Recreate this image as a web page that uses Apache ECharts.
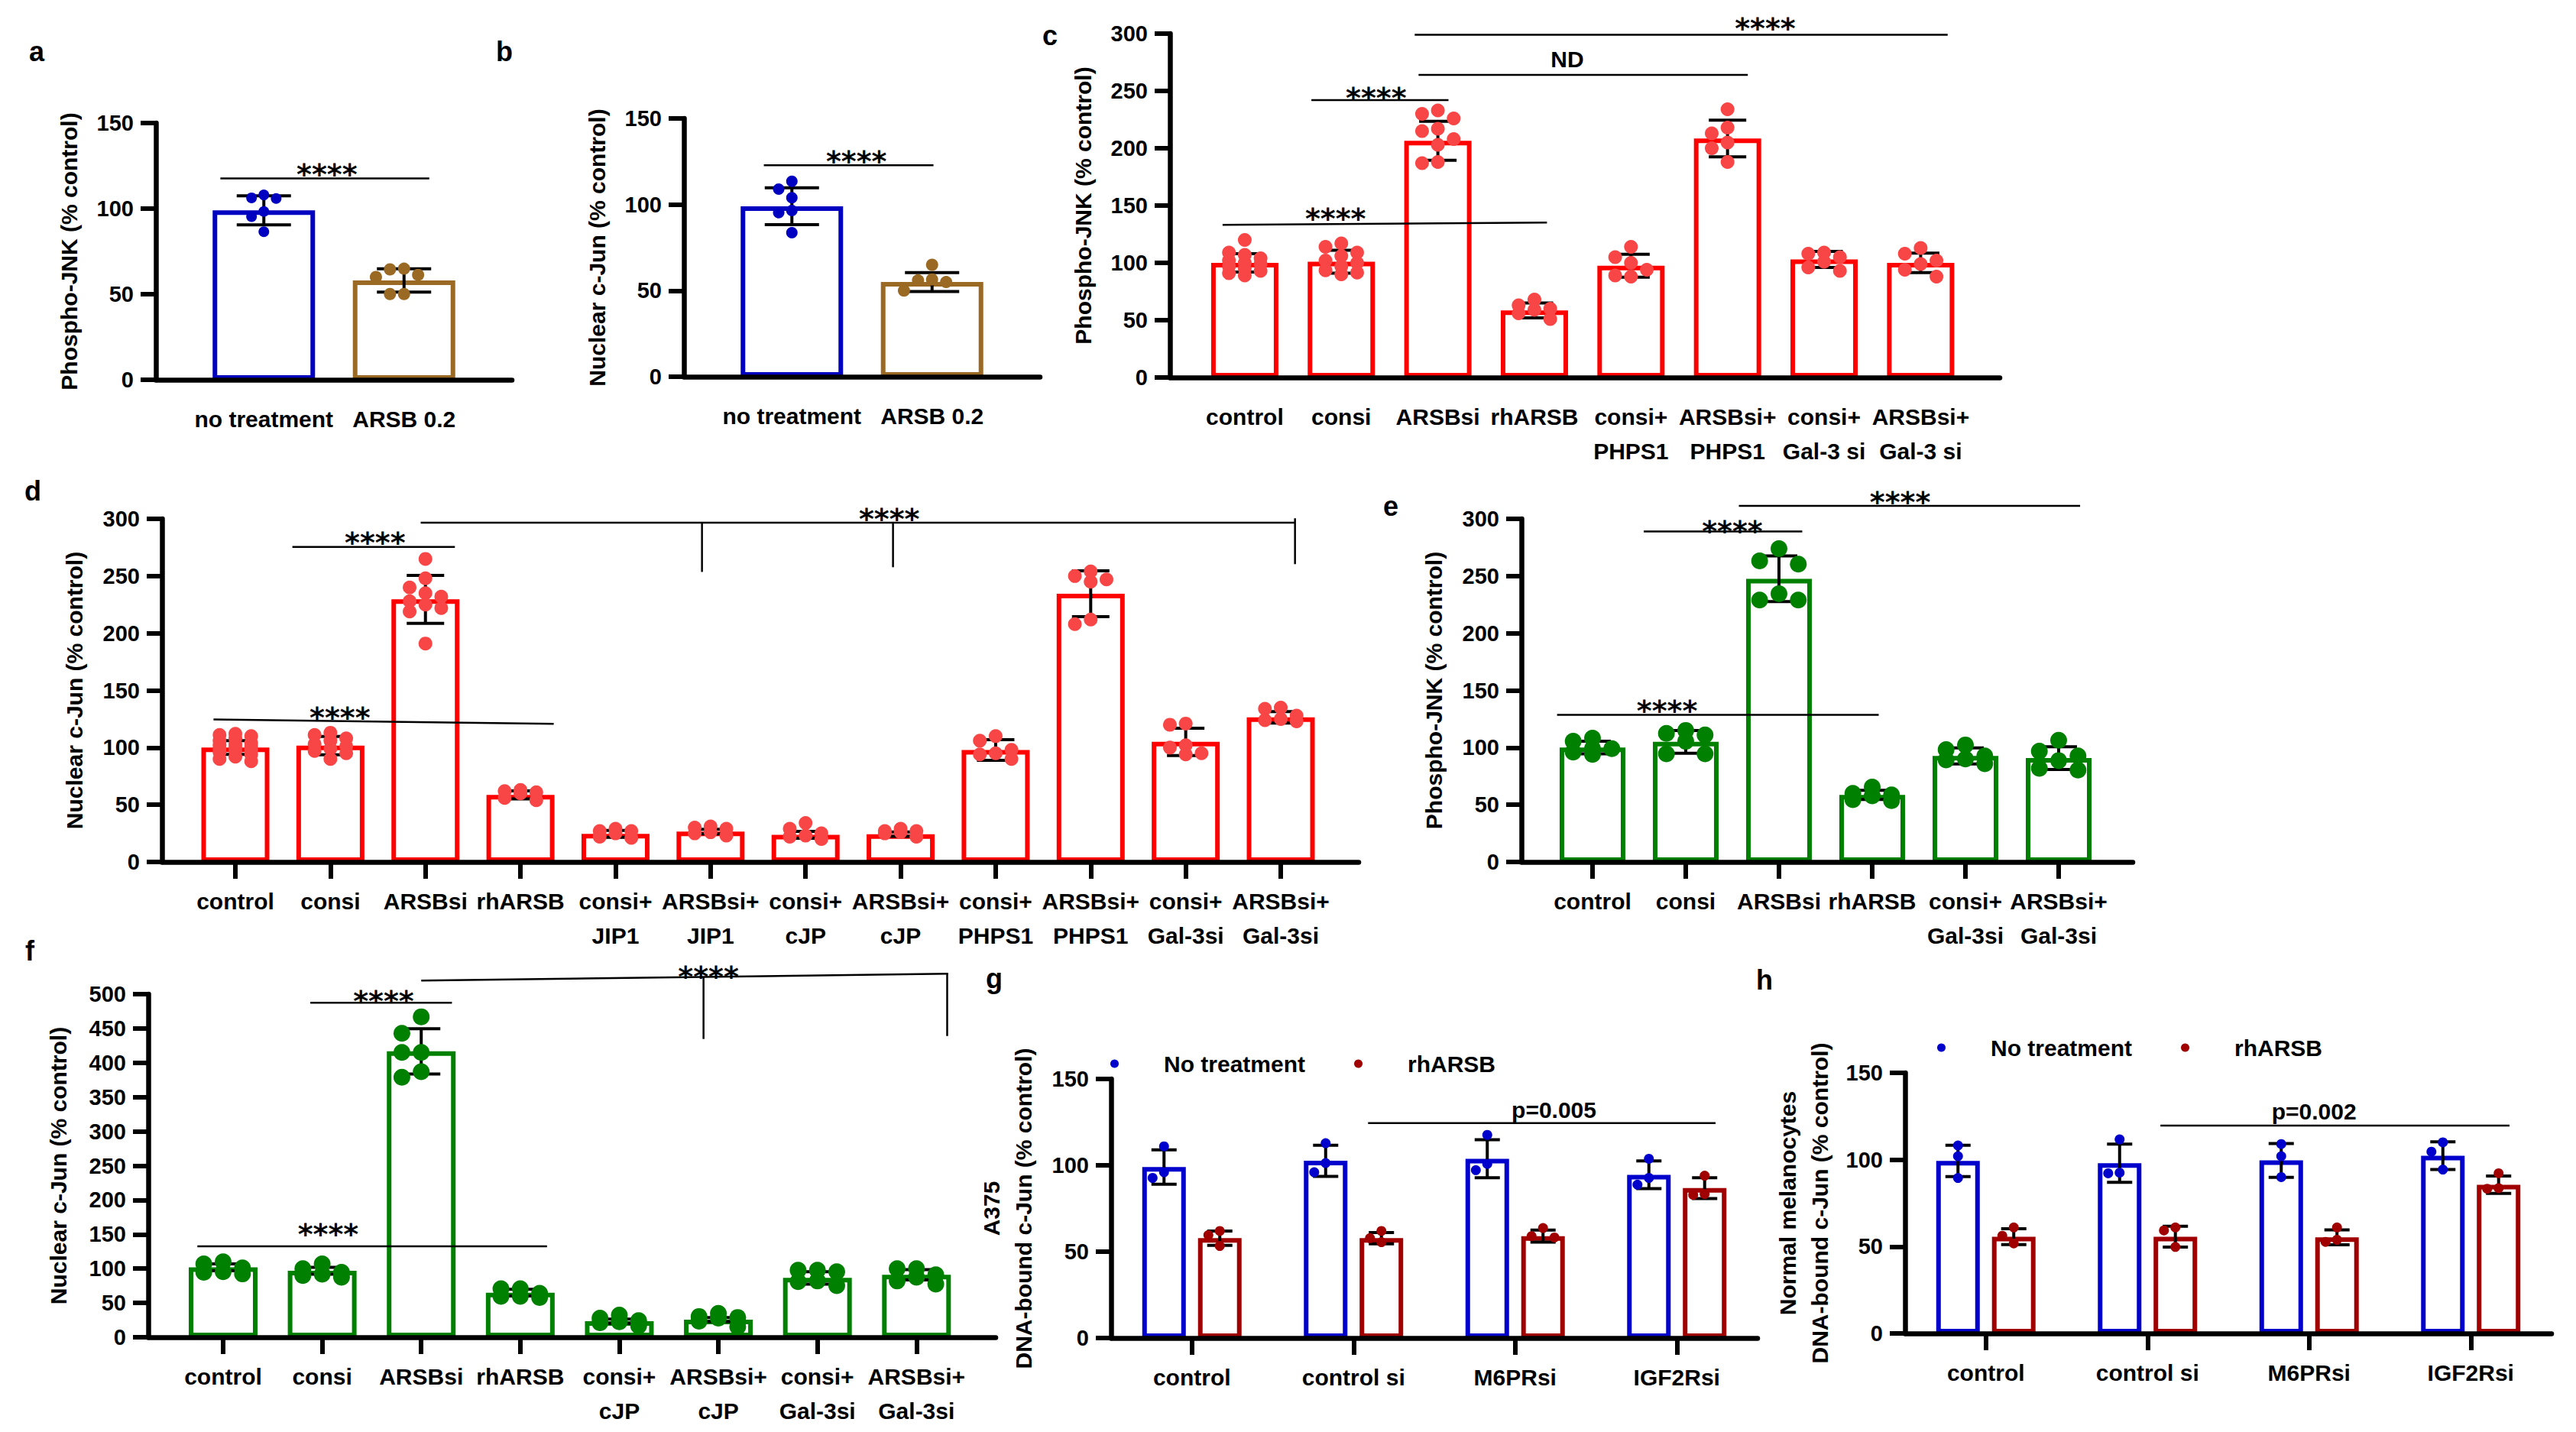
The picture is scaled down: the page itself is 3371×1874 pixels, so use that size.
<!DOCTYPE html>
<html><head><meta charset="utf-8">
<script src="https://cdn.jsdelivr.net/npm/echarts@6/dist/echarts.min.js"></script>
<style>html,body{margin:0;padding:0;background:#fff}#main{width:3371px;height:1874px}</style>
</head><body><div id="main"></div>
<script>
// ================= DATA =================
// Panel a
const aCats = ['no treatment', 'ARSB 0.2'];
const aMean = [99, 58];
const aSD = [8.5, 6.8];
const aDots = [[108, 105.9, 106.3, 98.3, 95.3, 86.5], [61.3, 64.9, 64.5, 60.1, 50.1, 50.1]];
const aSigLines = [[-0.31, 117.6, 1.18, 117.6]];
const aSigText = [['****', 0.45, 124]];
// Panel b
const bCats = ['no treatment', 'ARSB 0.2'];
const bMean = [99, 55];
const bSD = [10.7, 5.5];
const bDots = [[113.5, 109, 104, 96.5, 95.3, 83.7], [65, 56.5, 55, 56, 50]];
const bSigLines = [[-0.2, 122.8, 1.01, 122.8]];
const bSigText = [['****', 0.46, 129]];
// Panel c
const cCats = ['control', 'consi', 'ARSBsi', 'rhARSB', 'consi+\nPHPS1', 'ARSBsi+\nPHPS1', 'consi+\nGal-3 si', 'ARSBsi+\nGal-3 si'];
const cMean = [100, 101, 206.5, 58.5, 97.5, 208.5, 103, 100];
const cSD = [8, 10, 17, 6.5, 10, 16, 7, 8.5];
const cDots = [
  [120, 109, 107, 104, 102, 100, 99, 97, 95, 93, 91, 89],
  [117, 114, 109, 106, 102, 100, 97, 93.5, 91.5, 90],
  [233, 230, 226, 217, 215, 208, 203, 188, 187],
  [68, 63, 60, 59, 56, 51],
  [114, 105, 100, 94, 89, 88],
  [234, 218, 213, 205, 200, 188],
  [109, 108, 105, 101, 96, 93],
  [113, 108, 102, 99, 94, 88]];
const cSigLines = [[1.76, 299, 7.28, 299], [1.8, 264, 5.21, 264], [0.69, 242, 2.11, 242], [-0.23, 133.1, 3.13, 135.2]];
const cSigText = [['****', 5.39, 310.6], ['ND', 3.34, 277.6], ['****', 1.36, 250], ['****', 0.94, 145]];
// Panel d
const dCats = ['control', 'consi', 'ARSBsi', 'rhARSB', 'consi+\nJIP1', 'ARSBsi+\nJIP1', 'consi+\ncJP', 'ARSBsi+\ncJP', 'consi+\nPHPS1', 'ARSBsi+\nPHPS1', 'consi+\nGal-3si', 'ARSBsi+\nGal-3si'];
const dMean = [100, 101.7, 229.6, 58.6, 24.5, 26.5, 23.7, 24.3, 97.9, 234.5, 105, 126.5];
const dSD = [6, 8, 21, 3.5, 3, 2, 3, 2, 9, 20, 12, 5];
const dDots = [
  [112, 111, 110, 108, 106, 104, 103, 102, 101, 100, 99, 98, 97, 96, 94, 92, 90, 88],
  [113, 111, 108, 106, 103, 101, 99, 97, 95, 90],
  [265, 248, 240, 235, 232, 228, 225, 222, 219, 191],
  [63, 62, 61, 60, 56, 54],
  [29, 27, 27, 25, 22, 21],
  [31, 30, 29, 26, 25, 23],
  [34, 29, 25, 23, 22, 20],
  [29, 27, 27, 26, 25, 22],
  [110, 106, 98, 95, 94, 90],
  [254, 250, 247, 245, 212, 208],
  [121, 120, 102, 100, 95, 94],
  [135, 134, 128, 125, 124, 123]];
const dSigLines = [[0.6, 275.4, 2.31, 275.4], [-0.23, 124.6, 3.35, 120.8], [1.95, 296.7, 11.15, 296.7],
  [4.91, 296.7, 4.91, 253.6], [6.92, 296.7, 6.92, 257.7], [11.15, 300.5, 11.15, 260.4]];
const dSigText = [['****', 1.47, 285], ['****', 1.1, 132], ['****', 6.88, 306]];
// Panel e
const eCats = ['control', 'consi', 'ARSBsi', 'rhARSB', 'consi+\nGal-3si', 'ARSBsi+\nGal-3si'];
const eMean = [100, 105, 247.6, 58.6, 92.7, 90.8];
const eSD = [5.5, 10, 20, 4, 7, 10];
const eDots = [
  [96, 105.5, 108.3, 99, 99, 94],
  [105.5, 115, 111, 112.4, 94.6, 94.6],
  [263.2, 274, 260.4, 234.5, 229, 229],
  [54.5, 65.4, 58.6, 60, 53.7, 57.8],
  [98.2, 85.9, 92.7, 102.3, 90, 89.2],
  [106.4, 92.7, 80.4, 88.6, 96.8, 81.8]];
const eSigLines = [[1.57, 311.4, 5.23, 311.4], [0.55, 289, 2.25, 289], [-0.38, 128.7, 3.07, 128.7]];
const eSigText = [['****', 3.3, 320.4], ['****', 1.5, 295], ['****', 0.8, 138]];
// Panel f
const fCats = ['control', 'consi', 'ARSBsi', 'rhARSB', 'consi+\ncJP', 'ARSBsi+\ncJP', 'consi+\nGal-3si', 'ARSBsi+\nGal-3si'];
const fMean = [102, 97, 416.7, 65, 23.4, 25.7, 86.5, 91];
const fSD = [5, 5, 33, 5, 3, 3, 9, 7.5];
const fDots = [
  [94.6, 110, 95.5, 106.8, 92.3, 101],
  [91.9, 106.8, 87.4, 100, 90, 94.6],
  [467, 443, 415, 415, 379, 387],
  [59.5, 70.7, 59.5, 70.7, 58, 64],
  [22.5, 32.4, 21.2, 27.9, 16.7, 24.3],
  [27.9, 34.7, 23.4, 30.2, 15.3, 28.8],
  [82, 97.7, 81, 97.7, 95.5, 75.2],
  [87.4, 100, 82, 100, 77.5, 91]];
const fSigLines = [[2.0, 519.8, 7.32, 529.7], [4.85, 525, 4.85, 434.7], [7.31, 529.7, 7.31, 439],
  [0.88, 487.4, 2.31, 487.4], [-0.26, 132.4, 3.27, 132.4]];
const fSigText = [['****', 4.9, 536], ['****', 1.62, 500], ['****', 1.06, 160.8]];
// Panels g, h
const ghCats = ['control', 'control si', 'M6PRsi', 'IGF2Rsi'];
const ghSeriesNames = ['No treatment', 'rhARSB'];
const gMeanNT = [99, 102.6, 103.8, 94.5];
const gSDNT = [10, 9, 11, 8];
const gMeanR = [57.8, 57.8, 59, 86.8];
const gSDR = [4.2, 3.3, 3.5, 6];
const gDotsNT = [[111, 92.7, 96], [112.8, 101.3, 96], [117.6, 97.2, 100.8], [103.8, 88.8, 92.7]];
const gDotsR = [[62, 53.3, 59.6], [62, 55.5, 57.8], [58.2, 63.7, 59], [94, 82.9, 83.4]];
const gSigLines = [[1.09, 124.4, 3.24, 124.4]];
const gSigText = [['p=0.005', 2.24, 132]];
const hMeanNT = [99.3, 98, 99.6, 102.3];
const hSDNT = [9, 11, 9.7, 8];
const hMeanR = [55.7, 55.7, 55.3, 85.6];
const hSDR = [4.6, 6, 4.3, 5];
const hDotsNT = [[108.2, 102, 89.5], [111.7, 92.2, 92.5], [109, 102, 90], [110, 104.6, 94.3]];
const hDotsR = [[61, 51.8, 56.2], [61, 59.3, 49.8], [61, 52.7, 53.9], [92.2, 83.3, 83.6]];
const hSigLines = [[1.08, 119.6, 3.24, 119.6]];
const hSigText = [['p=0.002', 2.03, 127.8]];

// ================= STYLE =================
const BLACK = '#000';
const FONT = 'Liberation Sans';
const BLUE = '#0000C0', BROWN = '#9A6A24';
const RED = '#FF0000', RED_DOT = '#F84646';
const GREEN = '#008000', GREEN_DOT = '#008000';
const BLUE2 = '#0000CC', DRED = '#A00000';

const option = { animation: false, backgroundColor: '#fff', grid: [], xAxis: [], yAxis: [], series: [], legend: [], graphic: [] };

function swarm(pts, d, maxOff) {
  const order = pts.map((p, k) => k).sort((a, b) => pts[a][1] - pts[b][1]);
  const placed = [], res = new Array(pts.length), step = d * 1.15;
  for (const k of order) {
    const x0 = pts[k][0], y = pts[k][1];
    let best = 0, bestScore = -1;
    for (let j = 0; j <= 24; j++) {
      const off = j === 0 ? 0 : (j % 2 ? -1 : 1) * Math.ceil(j / 2) * step;
      if (Math.abs(off) > maxOff + 0.01) continue;
      let minD = Infinity;
      for (const q of placed) minD = Math.min(minD, Math.hypot(q[0] - (x0 + off), q[1] - y));
      if (minD >= d * 1.0) { best = off; bestScore = Infinity; break; }
      if (minD > bestScore) { bestScore = minD; best = off; }
    }
    res[k] = [x0 + best, y];
    placed.push(res[k]);
  }
  return res;
}

function labelStyle() {
  return { color: BLACK, fontFamily: FONT, fontWeight: 'bold', fontSize: 30, lineHeight: 45, margin: 29 };
}
function yAxisCfg(gi, L) {
  return {
    type: 'value', gridIndex: gi, min: 0, max: L.ymax, interval: L.yint, z: 10,
    axisLine: { show: true, onZero: false, lineStyle: { color: BLACK, width: 6.5 } },
    axisTick: { show: true, inside: false, length: 20, lineStyle: { color: BLACK, width: 6 } },
    splitLine: { show: false },
    axisLabel: { color: BLACK, fontFamily: FONT, fontWeight: 'bold', fontSize: 29, margin: 29 },
    name: L.name, nameLocation: 'middle', nameGap: L.nameGap,
    nameTextStyle: { color: BLACK, fontFamily: FONT, fontWeight: 'bold', fontSize: 30, lineHeight: L.nameLH || 34 }
  };
}
function addErr(xi, yi, data, capW, dxPx) {
  option.series.push({
    type: 'custom', xAxisIndex: xi, yAxisIndex: yi, z: 3, clip: false, silent: true, data,
    renderItem: (params, api) => {
      const i = api.value(0), m = api.value(1), s = api.value(2);
      const t = api.coord([i, m + s]), b = api.coord([i, m - s]);
      const x = t[0] + dxPx, hw = capW / 2, st = { stroke: BLACK, lineWidth: 4 };
      return { type: 'group', children: [
        { type: 'line', shape: { x1: x, y1: t[1], x2: x, y2: b[1] }, style: st },
        { type: 'line', shape: { x1: x - hw, y1: t[1], x2: x + hw, y2: t[1] }, style: st },
        { type: 'line', shape: { x1: x - hw, y1: b[1], x2: x + hw, y2: b[1] }, style: st }] };
    }
  });
}
function addDots(xi, yi, dots, means, colors, sizes, barW, dxPx, name) {
  option.series.push({
    type: 'custom', name: name, xAxisIndex: xi, yAxisIndex: yi, z: 4, clip: false, silent: true,
    itemStyle: { color: colors[0] },
    data: means.map((m, i) => [i, m]),
    renderItem: (params, api) => {
      const i = params.dataIndex;
      const d = sizes[i % sizes.length];
      const pts = dots[i].map(v => { const p = api.coord([api.value(0), v]); return [p[0] + dxPx, p[1]]; });
      const pos = swarm(pts, d, Math.max(0, barW / 2 - d / 2 + 4));
      return { type: 'group', children: pos.map(p => ({ type: 'circle', shape: { cx: p[0], cy: p[1], r: d / 2 }, style: { fill: colors[i % colors.length] } })) };
    }
  });
}
function addSig(xi, yi, lines, texts) {
  option.series.push({
    type: 'custom', xAxisIndex: xi, yAxisIndex: yi, z: 3, clip: false, silent: true,
    data: lines, encode: { x: [0, 2], y: [1, 3] },
    renderItem: (params, api) => {
      const p1 = api.coord([api.value(0), api.value(1)]), p2 = api.coord([api.value(2), api.value(3)]);
      return { type: 'line', shape: { x1: p1[0], y1: p1[1], x2: p2[0], y2: p2[1] }, style: { stroke: BLACK, lineWidth: 2.5 } };
    }
  });
  option.series.push({
    type: 'custom', xAxisIndex: xi, yAxisIndex: yi, z: 3, clip: false, silent: true,
    data: texts.map(t => [t[1], t[2]]),
    renderItem: (params, api) => {
      const t = texts[params.dataIndex][0];
      const p = api.coord([api.value(0), api.value(1)]);
      const star = t.indexOf('*') >= 0;
      return { type: 'text', x: p[0], y: p[1] + (star ? 9 : 0), style: {
        text: t, fill: BLACK, align: 'center', verticalAlign: 'middle',
        font: star ? 'bold 38px "DejaVu Sans"' : 'bold 30px "Liberation Sans"' } };
    }
  });
}
function addSingle(L, cats, means, sds, dots, sigLines, sigText, barColors, dotColors, dotSizes) {
  const gi = option.grid.length;
  option.grid.push({ left: L.left, top: L.top, width: L.width, height: L.height });
  const idx = cats.map((c, i) => i);
  const xi = option.xAxis.length;
  option.xAxis.push({
    type: 'value', gridIndex: gi, min: L.xmin, max: L.xmax, z: 10,
    axisLine: { show: true, onZero: false, lineStyle: { color: BLACK, width: 6.5 } },
    axisTick: { show: !!L.ticks, customValues: idx, length: 22, lineStyle: { color: BLACK, width: 6 } },
    splitLine: { show: false },
    axisLabel: Object.assign(labelStyle(), { customValues: idx, formatter: v => cats[Math.round(v)] })
  });
  const yi = option.yAxis.length;
  option.yAxis.push(yAxisCfg(gi, L));
  option.series.push({
    type: 'bar', xAxisIndex: xi, yAxisIndex: yi, barWidth: L.barW, z: 2, silent: true,
    data: means.map((m, i) => ({ value: [i, m], itemStyle: { color: '#fff', borderColor: barColors[i % barColors.length], borderWidth: 6 } }))
  });
  addErr(xi, yi, means.map((m, i) => [i, m, sds[i]]), L.capW, 0);
  addDots(xi, yi, dots, means, dotColors, dotSizes, L.barW, 0);
  addSig(xi, yi, sigLines, sigText);
}
function addGrouped(L, cats, mNT, sNT, dNT, mR, sR, dR, sigLines, sigText) {
  const gi = option.grid.length;
  option.grid.push({ left: L.left, top: L.top, width: L.width, height: L.height });
  const xi = option.xAxis.length;
  option.xAxis.push({
    type: 'category', gridIndex: gi, data: cats, boundaryGap: true, z: 10,
    axisLine: { show: true, onZero: false, lineStyle: { color: BLACK, width: 6.5 } },
    axisTick: { show: true, alignWithLabel: true, length: 22, lineStyle: { color: BLACK, width: 6 } },
    splitLine: { show: false },
    axisLabel: Object.assign(labelStyle(), { interval: 0 })
  });
  const xv = option.xAxis.length;
  option.xAxis.push({ type: 'value', gridIndex: gi, min: -0.5, max: cats.length - 0.5, show: false, splitLine: { show: false } });
  const yi = option.yAxis.length;
  option.yAxis.push(yAxisCfg(gi, L));
  const off = L.barW * (1 + L.gap) / 2;
  const groups = [[mNT, sNT, dNT, BLUE2, -off], [mR, sR, dR, DRED, off]];
  groups.forEach((g, k) => {
    option.series.push({
      type: 'bar', name: ghSeriesNames[k] + ' ', xAxisIndex: xi, yAxisIndex: yi, barWidth: L.barW, barGap: (L.gap * 100) + '%', z: 2, silent: true,
      itemStyle: { color: '#fff', borderColor: g[3], borderWidth: 6 },
      data: g[0]
    });
  });
  groups.forEach((g, k) => {
    addErr(xi, yi, g[0].map((m, i) => [i, m, g[1][i]]), L.capW, g[4]);
    addDots(xi, yi, g[2], g[0], [g[3]], [L.dot], L.barW, g[4], ghSeriesNames[k]);
  });
  addSig(xv, yi, sigLines, sigText);
  option.legend.push({
    left: L.legLeft, top: L.legTop, orient: 'horizontal', itemWidth: 11, itemHeight: 11, itemGap: 64, selectedMode: false,
    data: [{ name: ghSeriesNames[0], icon: 'circle', itemStyle: { color: BLUE2, borderWidth: 0 } },
           { name: ghSeriesNames[1], icon: 'circle', itemStyle: { color: DRED, borderWidth: 0 } }],
    textStyle: { color: BLACK, fontFamily: FONT, fontWeight: 'bold', fontSize: 30, padding: [0, 0, 0, 54] }
  });
}

// ================= PANELS =================
addSingle({ left: 204, top: 161, width: 466, height: 336, xmin: -0.77, xmax: 1.77, ymax: 150, yint: 50, barW: 134, capW: 71,
  name: 'Phospho-JNK (% control)', nameGap: 97 }, aCats, aMean, aSD, aDots, aSigLines, aSigText, [BLUE, BROWN], [BLUE, BROWN], [14, 16]);
addSingle({ left: 895, top: 155, width: 466, height: 338, xmin: -0.77, xmax: 1.77, ymax: 150, yint: 50, barW: 134, capW: 71,
  name: 'Nuclear c-Jun (% control)', nameGap: 97 }, bCats, bMean, bSD, bDots, bSigLines, bSigText, [BLUE, BROWN], [BLUE, BROWN], [15, 16]);
addSingle({ left: 1531, top: 44, width: 1086, height: 450, xmin: -0.775, xmax: 7.82, ymax: 300, yint: 50, barW: 88, capW: 49,
  name: 'Phospho-JNK (% control)', nameGap: 97 }, cCats, cMean, cSD, cDots, cSigLines, cSigText, [RED], [RED_DOT], [18]);
addSingle({ left: 212, top: 679, width: 1566, height: 449, xmin: -0.772, xmax: 11.82, ymax: 300, yint: 50, barW: 89, capW: 49, ticks: true,
  name: 'Nuclear c-Jun (% control)', nameGap: 98 }, dCats, dMean, dSD, dDots, dSigLines, dSigText, [RED], [RED_DOT], [18]);
addSingle({ left: 1991, top: 679, width: 800, height: 449, xmin: -0.762, xmax: 5.795, ymax: 300, yint: 50, barW: 86, capW: 48, ticks: true,
  name: 'Phospho-JNK (% control)', nameGap: 98 }, eCats, eMean, eSD, eDots, eSigLines, eSigText, [GREEN], [GREEN_DOT], [22]);
addSingle({ left: 194, top: 1301, width: 1109, height: 449, xmin: -0.756, xmax: 7.8, ymax: 500, yint: 50, barW: 90, capW: 50, ticks: true,
  name: 'Nuclear c-Jun (% control)', nameGap: 101 }, fCats, fMean, fSD, fDots, fSigLines, fSigText, [GREEN], [GREEN_DOT], [22]);
addGrouped({ left: 1454, top: 1412, width: 846, height: 339, ymax: 150, yint: 50, barW: 57, gap: 0.28, capW: 33, dot: 13,
  name: 'A375\nDNA-bound c-Jun (% control)', nameGap: 94, nameLH: 42, legLeft: 1448, legTop: 1372 },
  ghCats, gMeanNT, gSDNT, gDotsNT, gMeanR, gSDR, gDotsR, gSigLines, gSigText);
addGrouped({ left: 2493, top: 1404, width: 846, height: 341, ymax: 150, yint: 50, barW: 57, gap: 0.28, capW: 33, dot: 13,
  name: 'Normal melanocytes\nDNA-bound c-Jun (% control)', nameGap: 91, nameLH: 42, legLeft: 2530, legTop: 1351 },
  ghCats, hMeanNT, hSDNT, hDotsNT, hMeanR, hSDR, hDotsR, hSigLines, hSigText);

// panel letters
[['a', 38, 49], ['b', 649, 49], ['c', 1364, 28], ['d', 32, 624], ['e', 1810, 644], ['f', 33, 1226], ['g', 1290, 1262], ['h', 2298, 1264]]
  .forEach(l => option.graphic.push({ type: 'text', left: l[1], top: l[2], style: { text: l[0], font: 'bold 36px "Liberation Sans"', fill: BLACK } }));

const chart = echarts.init(document.getElementById('main'), null, { renderer: 'svg' });
chart.setOption(option);
</script>
</body></html>
